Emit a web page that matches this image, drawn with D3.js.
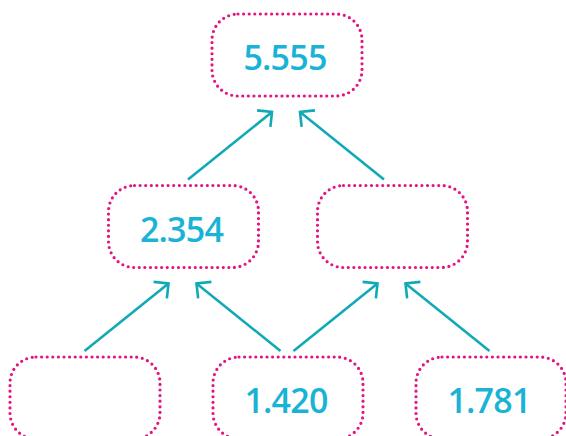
<!DOCTYPE html>
<html><head><meta charset="utf-8">
<script src="https://cdn.jsdelivr.net/npm/d3@7"></script>
<style>html,body{margin:0;padding:0;background:#fff;overflow:hidden}</style>
</head><body>
<svg id="c" width="566" height="436"></svg>
<script>
// Pyramid of values (top = sum of the two below)
const labels = ["5.555", "2.354", "", "", "1.420", "1.781"];
const levels = [0, 1, 1, 2, 2, 2];       // row in the pyramid
const slots  = [2, 1, 3, 0, 2, 4];       // horizontal slot in the pyramid
const links  = [[1, 0], [2, 0], [3, 1], [4, 1], [4, 2], [5, 2]]; // child -> parent

const boxW = 150, boxH = 82, boxR = 26;
// one horizontal scale per row
const xRows = [
  d3.scaleLinear().domain([0, 4]).range([79, 495]),
  d3.scaleLinear().domain([0, 4]).range([79, 497]),
  d3.scaleLinear().domain([0, 4]).range([85, 491])
];
const y = d3.scaleLinear().domain([0, 2]).range([14, 357]);

const svg = d3.select("#c");
const nodes = labels.map((l, i) => ({label: l, cx: xRows[levels[i]](slots[i]), top: y(levels[i])}));

// arrows
const arrowColor = "#12a9b6";
const g = svg.append("g");
links.forEach(([c, p]) => {
  const ch = nodes[c], pa = nodes[p];
  const dir = Math.sign(pa.cx - ch.cx);
  const x1 = pa.cx - dir * 14 - 1, y1 = pa.top + boxH + 16;
  const x0 = x1 - dir * 84, y0 = ch.top - 6;
  const ang = Math.atan2(y0 - y1, x0 - x1);
  const hl = 15, spread = Math.PI / 4;
  const b1 = [x1 + hl * Math.cos(ang + spread), y1 + hl * Math.sin(ang + spread)];
  const b2 = [x1 + hl * Math.cos(ang - spread), y1 + hl * Math.sin(ang - spread)];
  g.append("line").attr("x1", x0).attr("y1", y0).attr("x2", x1).attr("y2", y1)
    .attr("stroke", arrowColor).attr("stroke-width", 2.6);
  g.append("path").attr("d", `M${b1[0]},${b1[1]}L${x1},${y1}L${b2[0]},${b2[1]}`)
    .attr("fill", "none").attr("stroke", arrowColor).attr("stroke-width", 2.6)
    .attr("stroke-linejoin", "miter");
});

// boxes
svg.append("g").selectAll("rect").data(nodes).join("rect")
  .attr("x", d => d.cx - boxW / 2).attr("y", d => d.top)
  .attr("width", boxW).attr("height", boxH)
  .attr("rx", boxR).attr("ry", boxR)
  .attr("fill", "none").attr("stroke", "#e3147f").attr("stroke-width", 3.2)
  .attr("stroke-linecap", "round").attr("stroke-dasharray", "0 5.6");

// labels
svg.append("g").selectAll("text").data(nodes).join("text")
  .attr("x", d => d.cx - 2).attr("y", d => d.top + 56)
  .attr("text-anchor", "middle")
  .attr("font-family", "'Open Sans', sans-serif").attr("font-weight", 600)
  .attr("font-size", 34).attr("letter-spacing", -0.8)
  .attr("fill", "#1ab3d6")
  .text(d => d.label);
</script>
</body></html>
